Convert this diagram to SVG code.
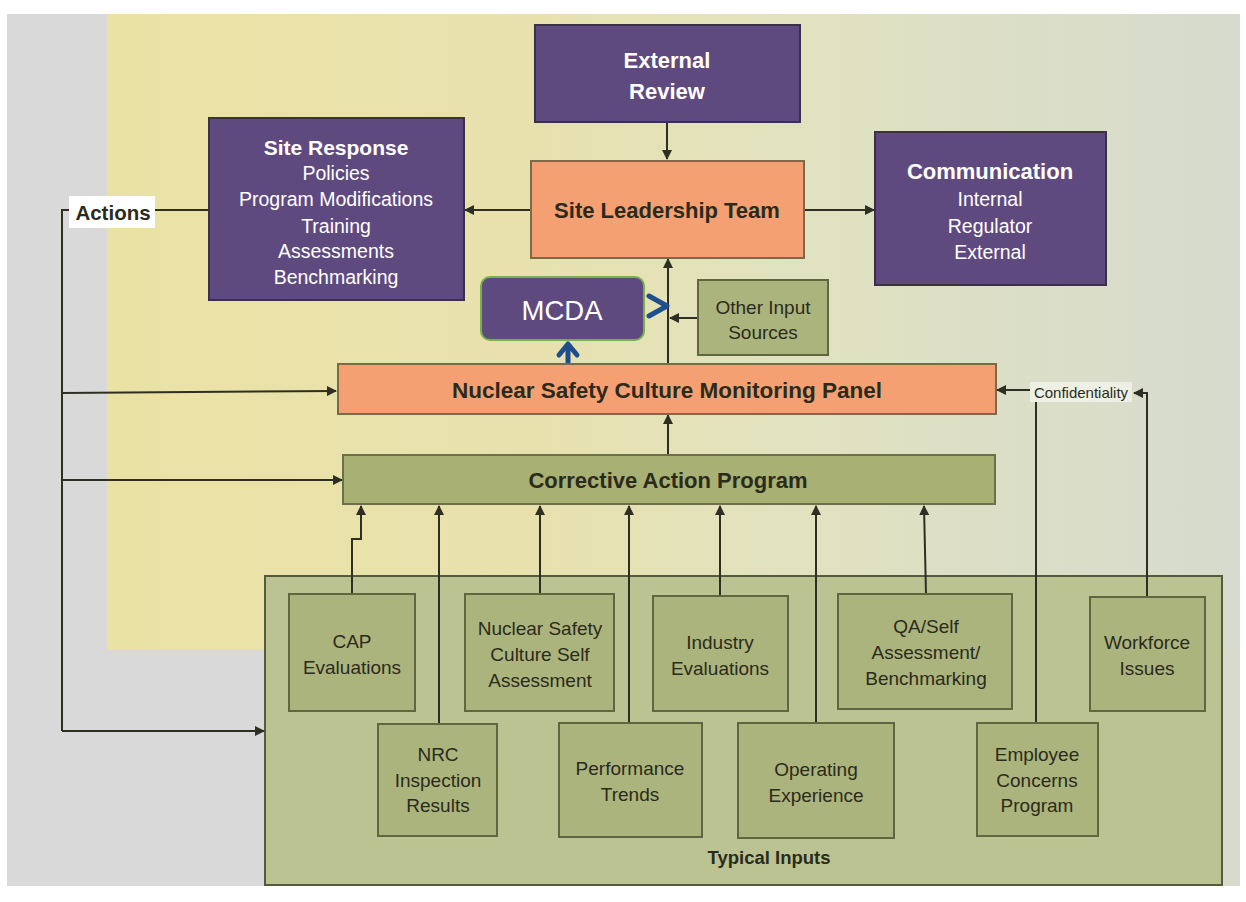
<svg xmlns="http://www.w3.org/2000/svg" width="1246" height="902" viewBox="0 0 1246 902">
<style>
.pur{fill:#5f4a80;stroke:#3a3048;stroke-width:2}
.org{fill:#f4a072;stroke:#7a6a48;stroke-width:2}
.grn{fill:#a8b073;stroke:#6b6f4a;stroke-width:2}
.inp{fill:#abb47d;stroke:#5f6640;stroke-width:2}
.cont{fill:#bcc393;stroke:#55593d;stroke-width:2}
.tw{font-family:"Liberation Sans",Arial,sans-serif;fill:#ffffff;text-anchor:middle}
.td{font-family:"Liberation Sans",Arial,sans-serif;fill:#2b2b1c;text-anchor:middle}
.b{font-weight:bold}
.sub{font-size:19.5px}
.in{font-size:19px}
.ln{fill:none;stroke:#2e2e22;stroke-width:2}
.bl{fill:none;stroke:#1f4e8c;stroke-width:5;stroke-linecap:round;stroke-linejoin:round}
</style>
<defs>
<linearGradient id="bg" x1="107" y1="0" x2="1230" y2="0" gradientUnits="userSpaceOnUse">
<stop offset="0" stop-color="#eae2a4"/>
<stop offset="0.38" stop-color="#e8e1ae"/>
<stop offset="0.62" stop-color="#e0e2c0"/>
<stop offset="1" stop-color="#d7dbcd"/>
</linearGradient>
<marker id="ah" viewBox="0 0 10 10" refX="9" refY="5" markerWidth="5" markerHeight="5" orient="auto" markerUnits="strokeWidth">
<path d="M0,0 L10,5 L0,10 z" fill="#2e2e22"/>
</marker>
</defs>
<rect x="0" y="0" width="1246" height="902" fill="#ffffff"/>
<rect x="7" y="14" width="1233" height="872" fill="#d9d9d9"/>
<rect x="107" y="14" width="1133" height="636" fill="url(#bg)"/>
<rect x="600" y="650" width="640" height="236" fill="#d8dbcc"/>

<g id="typical-inputs">
<rect class="cont" x="265" y="576" width="957" height="309"/>
<text class="td b" x="769" y="864" font-size="18.5">Typical Inputs</text>
</g>

<g id="connectors">
<line class="ln" x1="667" y1="122" x2="667" y2="159" marker-end="url(#ah)"/>
<line class="ln" x1="531" y1="210" x2="465" y2="210" marker-end="url(#ah)"/>
<line class="ln" x1="804" y1="210" x2="874" y2="210" marker-end="url(#ah)"/>
<line class="ln" x1="208" y1="210" x2="154" y2="210"/>
<polyline class="ln" points="70,210 62,210 62,731"/>
<line class="ln" x1="62" y1="393" x2="336" y2="391" marker-end="url(#ah)"/>
<line class="ln" x1="62" y1="480" x2="342" y2="480" marker-end="url(#ah)"/>
<line class="ln" x1="62" y1="731" x2="264" y2="731" marker-end="url(#ah)"/>
<line class="ln" x1="668" y1="364" x2="668" y2="259" marker-end="url(#ah)"/>
<line class="ln" x1="697" y1="318" x2="670" y2="318" marker-end="url(#ah)"/>
<line class="ln" x1="668" y1="455" x2="668" y2="415" marker-end="url(#ah)"/>
<polyline class="ln" points="352,594 352,539 361,539 361,506" marker-end="url(#ah)"/>
<line class="ln" x1="439" y1="723" x2="439" y2="506" marker-end="url(#ah)"/>
<line class="ln" x1="540" y1="594" x2="540" y2="506" marker-end="url(#ah)"/>
<line class="ln" x1="629" y1="722" x2="629" y2="506" marker-end="url(#ah)"/>
<line class="ln" x1="720" y1="596" x2="720" y2="506" marker-end="url(#ah)"/>
<line class="ln" x1="816" y1="722" x2="816" y2="506" marker-end="url(#ah)"/>
<line class="ln" x1="926" y1="594" x2="924" y2="506" marker-end="url(#ah)"/>
<line class="ln" x1="1036" y1="722" x2="1036" y2="402"/>
<polyline class="ln" points="1147,597 1147,393 1134,393" marker-end="url(#ah)"/>
<line class="ln" x1="1031" y1="390" x2="997" y2="390" marker-end="url(#ah)"/>
<polyline class="bl" points="649,296 667,306 649,316"/>
<polyline class="bl" points="559,355 568,344 577,355"/>
<line class="bl" x1="568" y1="346" x2="568" y2="365"/>
</g>

<g id="confidentiality-label">
<rect x="1030" y="382" width="102" height="20" fill="#eef0e6"/>
<text class="td" x="1081" y="398" font-size="15">Confidentiality</text>
</g>

<g id="actions-label">
<rect x="69" y="196" width="86" height="32" fill="#ffffff"/>
<text class="td b" x="113" y="220" font-size="20.5" fill="#111">Actions</text>
</g>

<g id="external-review">
<rect class="pur" x="535" y="25" width="265" height="97"/>
<text class="tw b" x="667" y="68" font-size="22">External</text>
<text class="tw b" x="667" y="99" font-size="22">Review</text>
</g>

<g id="site-leadership-team">
<rect class="org" x="531" y="161" width="273" height="97"/>
<text class="td b" x="667" y="218" font-size="22">Site Leadership Team</text>
</g>

<g id="site-response">
<rect class="pur" x="209" y="118" width="255" height="182"/>
<text class="tw b" x="336" y="155" font-size="21">Site Response</text>
<text class="tw sub" x="336" y="180">Policies</text>
<text class="tw sub" x="336" y="206">Program Modifications</text>
<text class="tw sub" x="336" y="233">Training</text>
<text class="tw sub" x="336" y="258">Assessments</text>
<text class="tw sub" x="336" y="284">Benchmarking</text>
</g>

<g id="communication">
<rect class="pur" x="875" y="132" width="231" height="153"/>
<text class="tw b" x="990" y="179" font-size="22">Communication</text>
<text class="tw sub" x="990" y="206">Internal</text>
<text class="tw sub" x="990" y="233">Regulator</text>
<text class="tw sub" x="990" y="259">External</text>
</g>

<g id="mcda">
<rect x="481" y="277" width="163" height="63" rx="9" fill="#5f4a80" stroke="#77b148" stroke-width="2"/>
<text class="tw" x="562" y="320" font-size="27.5">MCDA</text>
</g>

<g id="other-input-sources">
<rect class="inp" x="698" y="280" width="130" height="75" fill="#a4ae7b"/>
<text class="td in" x="763" y="314">Other Input</text>
<text class="td in" x="763" y="339">Sources</text>
</g>

<g id="monitoring-panel">
<rect class="org" x="338" y="364" width="658" height="50"/>
<text class="td b" x="667" y="398" font-size="22.5">Nuclear Safety Culture Monitoring Panel</text>
</g>

<g id="corrective-action-program">
<rect class="grn" x="343" y="455" width="652" height="49"/>
<text class="td b" x="668" y="488" font-size="22">Corrective Action Program</text>
</g>

<g id="cap-evaluations">
<rect class="inp" x="289" y="594" width="126" height="117"/>
<text class="td in" x="352" y="648">CAP</text>
<text class="td in" x="352" y="674">Evaluations</text>
</g>

<g id="nsc-self-assessment">
<rect class="inp" x="465" y="594" width="149" height="117"/>
<text class="td in" x="540" y="635">Nuclear Safety</text>
<text class="td in" x="540" y="661">Culture Self</text>
<text class="td in" x="540" y="687">Assessment</text>
</g>

<g id="industry-evaluations">
<rect class="inp" x="653" y="596" width="135" height="115"/>
<text class="td in" x="720" y="649">Industry</text>
<text class="td in" x="720" y="675">Evaluations</text>
</g>

<g id="qa-self-assessment">
<rect class="inp" x="838" y="594" width="174" height="115"/>
<text class="td in" x="926" y="633">QA/Self</text>
<text class="td in" x="926" y="659">Assessment/</text>
<text class="td in" x="926" y="685">Benchmarking</text>
</g>

<g id="workforce-issues">
<rect class="inp" x="1090" y="597" width="115" height="114"/>
<text class="td in" x="1147" y="649">Workforce</text>
<text class="td in" x="1147" y="675">Issues</text>
</g>

<g id="nrc-inspection-results">
<rect class="inp" x="378" y="724" width="119" height="112"/>
<text class="td in" x="438" y="761">NRC</text>
<text class="td in" x="438" y="787">Inspection</text>
<text class="td in" x="438" y="812">Results</text>
</g>

<g id="performance-trends">
<rect class="inp" x="559" y="723" width="143" height="114"/>
<text class="td in" x="630" y="775">Performance</text>
<text class="td in" x="630" y="801">Trends</text>
</g>

<g id="operating-experience">
<rect class="inp" x="738" y="723" width="156" height="115"/>
<text class="td in" x="816" y="776">Operating</text>
<text class="td in" x="816" y="802">Experience</text>
</g>

<g id="employee-concerns-program">
<rect class="inp" x="977" y="723" width="121" height="113"/>
<text class="td in" x="1037" y="761">Employee</text>
<text class="td in" x="1037" y="787">Concerns</text>
<text class="td in" x="1037" y="812">Program</text>
</g>
</svg>
